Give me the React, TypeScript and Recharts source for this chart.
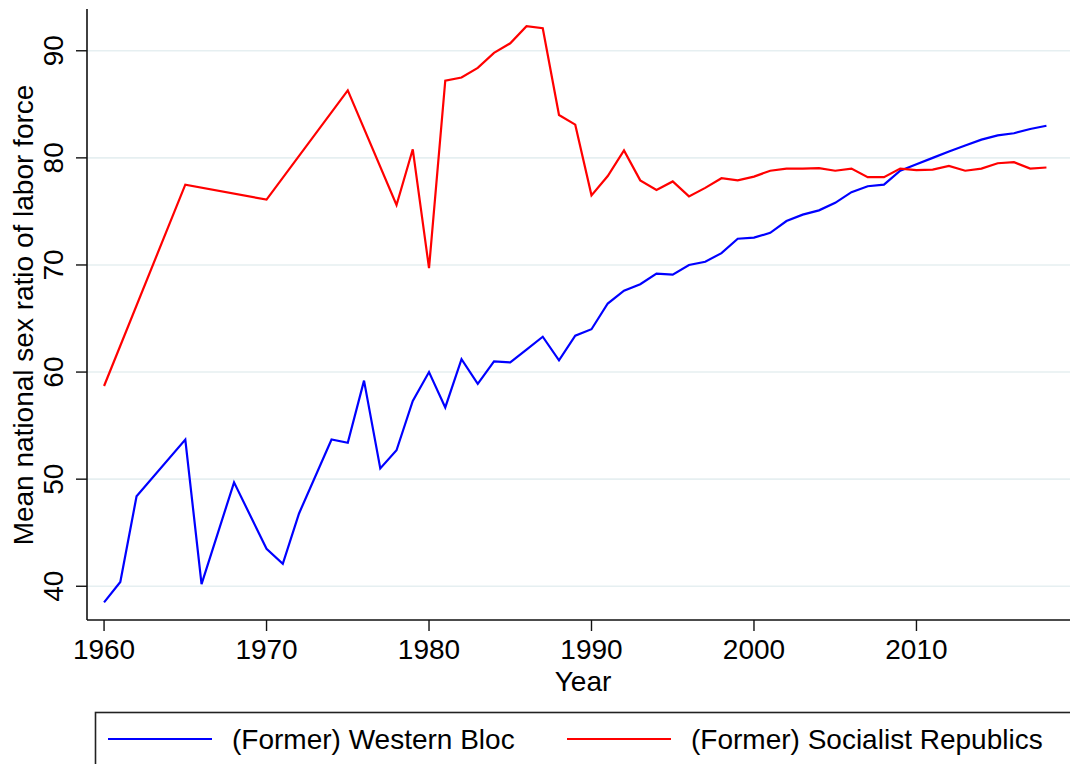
import { LineChart, Line, XAxis, YAxis, CartesianGrid } from "recharts";

const years = [
  1960, 1961, 1962, 1965, 1966, 1968, 1970, 1971, 1972, 1974, 1975, 1976, 1977, 1978, 1979,
  1980, 1981, 1982, 1983, 1984, 1985, 1986, 1987, 1988, 1989,
  1990, 1991, 1992, 1993, 1994, 1995, 1996, 1997, 1998, 1999,
  2000, 2001, 2002, 2003, 2004, 2005, 2006, 2007, 2008, 2009,
  2010, 2011, 2012, 2013, 2014, 2015, 2016, 2017, 2018,
];

const western = [
  38.5, 40.4, 48.4, 53.7, 40.2, 49.7, 43.5, 42.1, 46.8, 53.7, 53.4, 59.2, 51.0, 52.7, 57.3,
  60.0, 56.7, 61.2, 58.9, 61.0, 60.9, 62.1, 63.3, 61.1, 63.4,
  64.0, 66.4, 67.6, 68.2, 69.2, 69.1, 70.0, 70.3, 71.1, 72.45,
  72.55, 73.0, 74.1, 74.7, 75.1, 75.8, 76.8, 77.35, 77.5, 78.8,
  79.4, 80.0, 80.6, 81.15, 81.7, 82.1, 82.3, 82.7, 83.0,
];

const socialist = [
  58.7, null, null, 77.5, null, null, 76.1, null, null, null, 86.3, null, null, 75.6, 80.8,
  69.7, 87.2, 87.5, 88.4, 89.8, 90.7, 92.3, 92.1, 84.0, 83.1,
  76.5, 78.3, 80.7, 77.9, 77.0, 77.8, 76.4, 77.2, 78.1, 77.9,
  78.25, 78.8, 79.0, 79.0, 79.05, 78.8, 79.0, 78.2, 78.2, 79.0,
  78.85, 78.9, 79.25, 78.8, 79.0, 79.5, 79.6, 79.0, 79.1,
];

const xTicks = [1960, 1970, 1980, 1990, 2000, 2010];
const yTicks = [40, 50, 60, 70, 80, 90];

const series = [
  { key: "western", name: "(Former) Western Bloc", color: "#0000ff" },
  { key: "socialist", name: "(Former) Socialist Republics", color: "#ff0000" },
];

const data = years.map((year, i) => ({
  year,
  western: western[i],
  socialist: socialist[i],
}));

const FONT = "'Liberation Sans', Arial, Helvetica, sans-serif";

const XTick = ({ x, payload }: any) => (
  <text x={x} y={659} textAnchor="middle" fontSize={28} fontFamily={FONT} fill="#000">
    {payload.value}
  </text>
);

const YTick = ({ y, payload }: any) => (
  <text
    transform={`translate(63, ${y}) rotate(-90)`}
    textAnchor="middle"
    fontSize={28}
    fontFamily={FONT}
    fill="#000"
  >
    {payload.value}
  </text>
);

export default function App() {
  return (
    <div
      style={{
        position: "absolute",
        left: 0,
        top: 0,
        width: 1070,
        height: 764,
        background: "#fff",
        overflow: "hidden",
      }}
    >
      <LineChart
        width={1070}
        height={764}
        data={data}
        margin={{ top: 9, right: 0, bottom: 84, left: 0 }}
      >
        <CartesianGrid
          vertical={false}
          stroke="#e6eff1"
          strokeWidth={1.6}
          horizontalValues={yTicks}
        />
        <XAxis
          dataKey="year"
          type="number"
          domain={[1958.95, 2019.45]}
          ticks={xTicks}
          height={60}
          tickSize={11}
          tick={<XTick />}
          axisLine={{ stroke: "#111", strokeWidth: 1.6 }}
          tickLine={{ stroke: "#111", strokeWidth: 1.4 }}
          allowDataOverflow
        />
        <YAxis
          type="number"
          domain={[36.85, 93.9]}
          ticks={yTicks}
          width={87}
          tickSize={11}
          tick={<YTick />}
          axisLine={{ stroke: "#111", strokeWidth: 1.6 }}
          tickLine={{ stroke: "#111", strokeWidth: 1.4 }}
          allowDataOverflow
        />
        {series.map((s) => (
          <Line
            key={s.key}
            type="linear"
            dataKey={s.key}
            name={s.name}
            stroke={s.color}
            strokeWidth={2.2}
            dot={false}
            activeDot={false}
            connectNulls
            isAnimationActive={false}
          />
        ))}
      </LineChart>
      <svg
        width={1070}
        height={764}
        style={{ position: "absolute", left: 0, top: 0, pointerEvents: "none" }}
      >
        <text
          transform="translate(33, 315) rotate(-90)"
          textAnchor="middle"
          fontSize={28}
          fontFamily={FONT}
          fill="#000"
        >
          Mean national sex ratio of labor force
        </text>
        <text x={583} y={691} textAnchor="middle" fontSize={28} fontFamily={FONT} fill="#000">
          Year
        </text>
        <rect x={95.5} y={712.5} width={1100} height={100} fill="none" stroke="#222" strokeWidth={1.6} />
        {series.map((s, i) => {
          const lx = i === 0 ? 108 : 567;
          return (
            <g key={s.key}>
              <line x1={lx} x2={lx + 104} y1={739} y2={739} stroke={s.color} strokeWidth={2.2} />
              <text x={lx + 124} y={749} fontSize={28} fontFamily={FONT} fill="#000">
                {s.name}
              </text>
            </g>
          );
        })}
      </svg>
    </div>
  );
}
